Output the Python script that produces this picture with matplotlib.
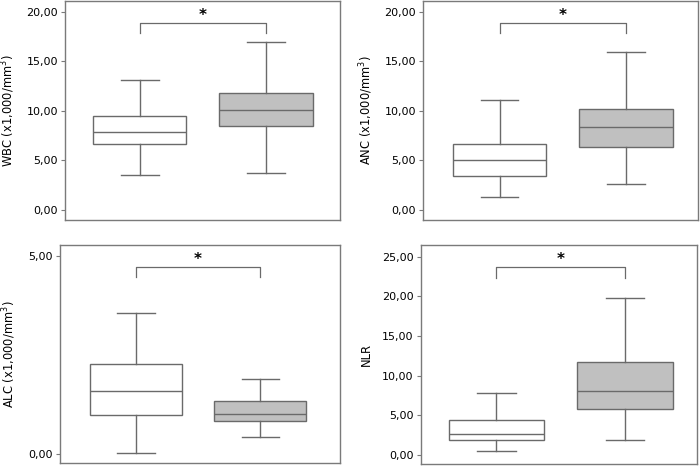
import matplotlib
matplotlib.use("Agg")
import matplotlib.pyplot as plt
from matplotlib.ticker import FuncFormatter

# box stats per panel: [group1, group2] -> (low whisker, q1, median, q3, high whisker)
wbc_low = [3.56, 3.69]
wbc_q1 = [6.65, 8.49]
wbc_med = [7.89, 10.10]
wbc_q3 = [9.50, 11.81]
wbc_high = [13.16, 16.92]

anc_low = [1.34, 2.59]
anc_q1 = [3.45, 6.34]
anc_med = [5.10, 8.33]
anc_q3 = [6.62, 10.24]
anc_high = [11.15, 15.98]

alc_low = [0.03, 0.44]
alc_q1 = [0.98, 0.84]
alc_med = [1.59, 1.02]
alc_q3 = [2.26, 1.35]
alc_high = [3.55, 1.90]

nlr_low = [0.46, 1.85]
nlr_q1 = [1.85, 5.76]
nlr_med = [2.69, 8.07]
nlr_q3 = [4.37, 11.69]
nlr_high = [7.78, 19.80]

ylabels = ["WBC (x1,000/mm$^3$)", "ANC (x1,000/mm$^3$)", "ALC (x1,000/mm$^3$)", "NLR"]
yticks = [[0, 5, 10, 15, 20], [0, 5, 10, 15, 20], [0, 5], [0, 5, 10, 15, 20, 25]]
# bracket: (line height, leg bottom)
brackets = [(18.9, 17.9), (18.9, 17.9), (4.71, 4.46), (23.67, 22.36)]

panels = [
    (wbc_low, wbc_q1, wbc_med, wbc_q3, wbc_high),
    (anc_low, anc_q1, anc_med, anc_q3, anc_high),
    (alc_low, alc_q1, alc_med, alc_q3, alc_high),
    (nlr_low, nlr_q1, nlr_med, nlr_q3, nlr_high),
]

# layout (figure fractions) and limits
rects = [
    [0.0929, 0.529, 0.393, 0.469],
    [0.604, 0.529, 0.393, 0.469],
    [0.085, 0.0086, 0.401, 0.467],
    [0.601, 0.0064, 0.394, 0.469],
]
ylims = [(-1.0, 21.1), (-1.0, 21.1), (-0.22, 5.27), (-1.13, 26.47)]
xlims = [(0.411, 2.585), (0.393, 2.57), (0.383, 2.645), (0.412, 2.555)]

frame_c = "#7a7a7a"
line_c = "#6a6a6a"
fills = ["white", "#c0c0c0"]

fig = plt.figure(figsize=(7, 4.67), dpi=100)
fmt = FuncFormatter(lambda v, p: f"{v:.2f}".replace(".", ","))

for i, (low, q1, med, q3, high) in enumerate(panels):
    ax = fig.add_axes(rects[i])
    stats = []
    for j in range(2):
        stats.append(dict(whislo=low[j], q1=q1[j], med=med[j], q3=q3[j], whishi=high[j], fliers=[]))
    bp = ax.bxp(stats, positions=[1, 2], widths=0.74, patch_artist=True, showfliers=False,
                boxprops=dict(edgecolor=line_c, linewidth=1.0),
                whiskerprops=dict(color=line_c, linewidth=1.0),
                capprops=dict(color=line_c, linewidth=1.0),
                medianprops=dict(color=line_c, linewidth=1.0),
                capwidths=0.3)
    for patch, fc in zip(bp["boxes"], fills):
        patch.set_facecolor(fc)

    top, leg = brackets[i]
    ax.plot([1, 1, 2, 2], [leg, top, top, leg], color=line_c, lw=0.9)
    ax.text(1.5, top, "*", ha="center", va="bottom", fontsize=11, fontweight="bold")

    ax.set_xlim(*xlims[i])
    ax.set_ylim(*ylims[i])
    ax.set_yticks(yticks[i])
    ax.yaxis.set_major_formatter(fmt)
    ax.set_xticks([])
    ax.tick_params(axis="y", length=3, color=frame_c, labelsize=8, pad=2)
    for s in ax.spines.values():
        s.set_color(frame_c)
        s.set_linewidth(1.0)
    ax.set_ylabel(ylabels[i], fontsize=8.3, labelpad=7)

fig.savefig("out.png", dpi=100)
